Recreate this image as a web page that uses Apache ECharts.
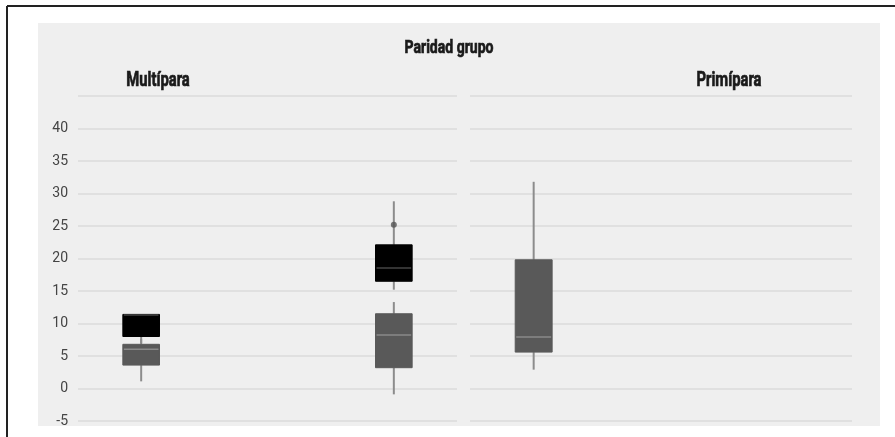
<!DOCTYPE html>
<html>
<head>
<meta charset="utf-8">
<script src="https://cdn.jsdelivr.net/npm/echarts@6/dist/echarts.min.js"></script>
<style>
html,body{margin:0;padding:0;background:#fff;}
#chart{width:895px;height:437px;}
</style>
</head>
<body>
<div id="chart"></div>
<script>
// ---- data ----
const chartTitle = 'Paridad grupo';
const panelNames = ['Multípara', 'Primípara'];
const xCategories = ['c1', 'c2', 'c3'];
const yTicks = [-5, 0, 5, 10, 15, 20, 25, 30, 35, 40];
// box stats: [categoryIndex, min, q1, median, q3, max]
const multiparaGrey = [[0, 1.1, 3.6, 6.1, 6.8, 7.6], [2, -0.9, 3.2, 8.3, 11.5, 13.3]];
const multiparaBlack = [[0, 7.0, 8.0, 11.4, 11.4, 11.4], [2, 15.2, 16.5, 18.6, 22.1, 28.8]];
const multiparaOutliers = [[2, 25.2]];
const primiparaGrey = [[0, 2.9, 5.6, 8.0, 19.8, 31.8]];

const FONT = 'Roboto, "Liberation Sans", sans-serif';

function boxRenderer(fill, whisker, median) {
  return function (params, api) {
    const x = api.value(0);
    const lo = api.coord([x, api.value(1)]);
    const q1 = api.coord([x, api.value(2)]);
    const md = api.coord([x, api.value(3)]);
    const q3 = api.coord([x, api.value(4)]);
    const hi = api.coord([x, api.value(5)]);
    const bw = api.size([1, 0])[0] * 0.29;
    const cx = lo[0];
    return {
      type: 'group',
      children: [
        {type: 'line', shape: {x1: cx, y1: hi[1], x2: cx, y2: q3[1]}, style: {stroke: whisker, lineWidth: 2}},
        {type: 'line', shape: {x1: cx, y1: q1[1], x2: cx, y2: lo[1]}, style: {stroke: whisker, lineWidth: 2}},
        {type: 'rect', shape: {x: cx - bw / 2, y: q3[1], width: bw, height: q1[1] - q3[1]}, style: {fill: fill, stroke: fill, lineWidth: 1}},
        {type: 'line', shape: {x1: cx - bw / 2 + 1, y1: md[1] + 0.5, x2: cx + bw / 2 - 1, y2: md[1] + 0.5}, style: {stroke: median, lineWidth: 1.5}}
      ]
    };
  };
}

function label(text, cx, cy, size, sx) {
  return {type: 'text', x: cx, y: cy, scaleX: sx, z: 10,
    style: {text: text, font: 'bold ' + size + 'px ' + FONT, fill: '#1a1a1a',
      stroke: '#1a1a1a', lineWidth: 0.7,
      textAlign: 'center', textVerticalAlign: 'middle'}};
}

const yAxisBase = {
  type: 'value', min: -5, max: 45, interval: 5,
  axisLine: {show: false}, axisTick: {show: false},
  splitLine: {lineStyle: {color: '#e0e0e0', width: 2}}
};

const chart = echarts.init(document.getElementById('chart'));
chart.setOption({
  backgroundColor: '#ffffff',
  animation: false,
  graphic: [
    {type: 'rect', z: -10, shape: {x: 38, y: 23, width: 842, height: 403}, style: {fill: '#efefef'}},
    {type: 'line', z: 10, shape: {x1: 7, y1: 6, x2: 895, y2: 6}, style: {stroke: '#222', lineWidth: 2}},
    {type: 'line', z: 10, shape: {x1: 7, y1: 6, x2: 7, y2: 437}, style: {stroke: '#222', lineWidth: 2}},
    label(chartTitle, 449, 48, 18, 0.78),
    label(panelNames[0], 158, 81, 20, 0.74),
    label(panelNames[1], 729, 81, 20, 0.74)
  ],
  grid: [
    {left: 78, top: 96, width: 379, height: 325},
    {left: 470, top: 96, width: 382, height: 325}
  ],
  xAxis: [
    {type: 'category', gridIndex: 0, data: xCategories, axisLine: {show: false}, axisTick: {show: false}, axisLabel: {show: false}},
    {type: 'category', gridIndex: 1, data: xCategories, axisLine: {show: false}, axisTick: {show: false}, axisLabel: {show: false}}
  ],
  yAxis: [
    Object.assign({gridIndex: 0}, yAxisBase, {
      axisLabel: {fontFamily: FONT, fontSize: 14, color: '#444', margin: 10,
        formatter: v => yTicks.indexOf(v) >= 0 ? String(v) : ''}
    }),
    Object.assign({gridIndex: 1}, yAxisBase, {axisLabel: {show: false}})
  ],
  series: [
    {type: 'custom', xAxisIndex: 0, yAxisIndex: 0, data: multiparaGrey,
     encode: {x: 0, y: [1, 2, 3, 4, 5]}, renderItem: boxRenderer('#595959', '#8c8c8c', '#8a8a8a'), z: 2},
    {type: 'custom', xAxisIndex: 0, yAxisIndex: 0, data: multiparaBlack,
     encode: {x: 0, y: [1, 2, 3, 4, 5]}, renderItem: boxRenderer('#000000', '#8c8c8c', '#444444'), z: 3},
    {type: 'scatter', xAxisIndex: 0, yAxisIndex: 0, data: multiparaOutliers,
     symbol: 'circle', symbolSize: 6, itemStyle: {color: '#555'}, z: 4},
    {type: 'custom', xAxisIndex: 1, yAxisIndex: 1, data: primiparaGrey,
     encode: {x: 0, y: [1, 2, 3, 4, 5]}, renderItem: boxRenderer('#595959', '#8c8c8c', '#8a8a8a'), z: 2}
  ]
});
</script>
</body>
</html>
